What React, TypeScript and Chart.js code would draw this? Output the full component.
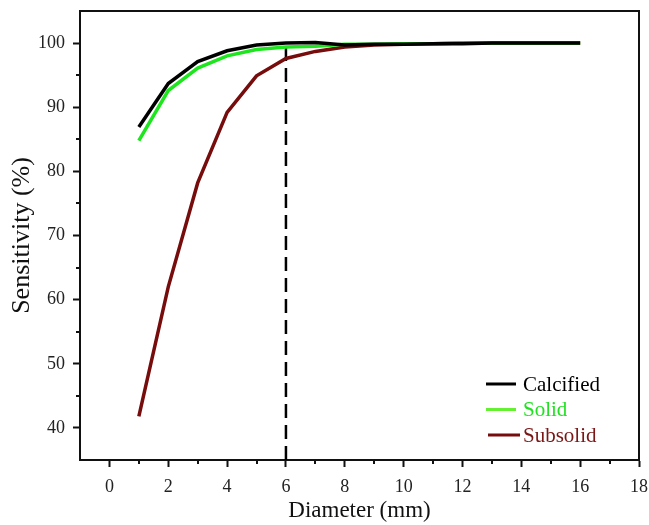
import React, { useEffect, useRef } from "react";
import { Chart, registerables } from "chart.js";

Chart.register(...registerables);

const diameters = [1, 2, 3, 4, 5, 6, 7, 8, 9, 10, 11, 12, 13, 14, 15, 16];
const calcified = [86.9, 93.7, 97.1, 98.8, 99.7, 100.0, 100.1, 99.7, 99.8, 99.8, 99.9, 99.9, 100, 100, 100, 100];
const solid = [84.8, 92.6, 96.1, 98.0, 99.0, 99.4, 99.5, 99.8, 99.8, 99.9, 99.9, 100, 100, 100, 100, 100];
const subsolid = [41.8, 62.0, 78.2, 89.2, 94.9, 97.6, 98.7, 99.4, 99.7, 99.8, 99.9, 100, 100, 100, 100, 100];
const cutoffX = [6, 6];
const cutoffY = [35, 100];

const seriesNames = ["Calcified", "Solid", "Subsolid"];
const seriesColors = ["#000000", "#1ee61e", "#760c0c"];
const legendLineColors = ["#000000", "#66f033", "#760c0c"];
const legendTextColors = ["#000000", "#22e022", "#7a1616"];

const xMajorTicks = [0, 2, 4, 6, 8, 10, 12, 14, 16, 18];
const xMinorTicks = [1, 3, 5, 7, 9, 11, 13, 15, 17];
const yMajorTicks = [40, 50, 60, 70, 80, 90, 100];
const yMinorTicks = [45, 55, 65, 75, 85, 95];

const FONT = "'Liberation Serif', 'Times New Roman', serif";

export default function App() {
  const ref = useRef<HTMLCanvasElement | null>(null);

  useEffect(() => {
    const canvas = ref.current;
    if (!canvas) return;

    const framePlugin = {
      id: "frame",
      afterDraw(chart: any) {
        const { ctx, chartArea } = chart;
        const xs = chart.scales.x;
        const ys = chart.scales.y;
        ctx.save();
        ctx.strokeStyle = "#111";
        ctx.lineWidth = 2;
        ctx.beginPath();
        ctx.moveTo(chartArea.left, chartArea.top);
        ctx.lineTo(chartArea.right, chartArea.top);
        ctx.lineTo(chartArea.right, chartArea.bottom);
        ctx.stroke();
        // minor ticks
        ctx.lineWidth = 2;
        ctx.beginPath();
        xMinorTicks.forEach((v) => {
          const px = Math.round(xs.getPixelForValue(v));
          ctx.moveTo(px, chartArea.bottom);
          ctx.lineTo(px, chartArea.bottom + 4);
        });
        yMinorTicks.forEach((v) => {
          const py = Math.round(ys.getPixelForValue(v));
          ctx.moveTo(chartArea.left, py);
          ctx.lineTo(chartArea.left - 4, py);
        });
        ctx.stroke();

        // legend
        const lx0 = xs.getPixelForValue(12.8);
        const lineW = 30;
        const rowH = 25.5;
        const topY = ys.getPixelForValue(46.85);
        ctx.font = `21px ${FONT}`;
        ctx.textBaseline = "middle";
        ctx.textAlign = "left";
        seriesNames.forEach((name, i) => {
          const y = topY + i * rowH;
          ctx.strokeStyle = legendLineColors[i];
          ctx.lineWidth = 3;
          ctx.beginPath();
          ctx.moveTo(lx0 + (i === 2 ? 2 : 0), y);
          ctx.lineTo(lx0 + lineW + (i === 2 ? 4 : 0), y);
          ctx.stroke();
          ctx.fillStyle = legendTextColors[i];
          ctx.fillText(name, lx0 + lineW + 7, y + 1);
        });
        ctx.restore();
      },
    };

    const mk = (ys: number[]) => diameters.map((d, i) => ({ x: d, y: ys[i] }));

    const chart = new Chart(canvas, {
      type: "line",
      data: {
        datasets: [
          {
            label: seriesNames[0],
            data: mk(calcified),
            borderColor: seriesColors[0],
            borderWidth: 3.5,
            pointRadius: 0,
            tension: 0,
          },
          {
            label: seriesNames[1],
            data: mk(solid),
            borderColor: seriesColors[1],
            borderWidth: 3.5,
            pointRadius: 0,
            tension: 0,
          },
          {
            label: seriesNames[2],
            data: mk(subsolid),
            borderColor: seriesColors[2],
            borderWidth: 3.5,
            pointRadius: 0,
            tension: 0,
          },
          {
            label: "cutoff",
            data: cutoffX.map((x, i) => ({ x, y: cutoffY[i] })),
            borderColor: "#000",
            borderWidth: 2.5,
            borderDash: [14, 7],
            pointRadius: 0,
          },
        ],
      },
      options: {
        animation: false,
        responsive: false,
        layout: { padding: { left: 0, top: 11, right: 10, bottom: 0 } },
        plugins: {
          legend: { display: false },
          tooltip: { enabled: false },
        },
        scales: {
          x: {
            type: "linear",
            min: -1,
            max: 18,
            afterBuildTicks: (s: any) => {
              s.ticks = xMajorTicks.map((v) => ({ value: v }));
            },
            afterFit: (s: any) => {
              s.height = 65;
              s.paddingLeft = 0;
              s.paddingRight = 0;
            },
            grid: {
              drawOnChartArea: false,
              drawTicks: true,
              tickLength: 7,
              tickWidth: 2,
              tickColor: "#111",
            },
            border: { display: true, color: "#111", width: 2 },
            ticks: {
              padding: 9,
              color: "#222",
              font: { family: FONT, size: 18 },
              maxRotation: 0,
            },
            title: {
              display: true,
              text: "Diameter (mm)",
              color: "#111",
              font: { family: FONT, size: 23 },
              padding: { top: 0, bottom: 0 },
            },
          },
          y: {
            type: "linear",
            min: 35,
            max: 105,
            afterBuildTicks: (s: any) => {
              s.ticks = yMajorTicks.map((v) => ({ value: v }));
            },
            afterFit: (s: any) => {
              s.width = 80;
              s.paddingTop = 0;
              s.paddingBottom = 0;
            },
            grid: {
              drawOnChartArea: false,
              drawTicks: true,
              tickLength: 7,
              tickWidth: 2,
              tickColor: "#111",
            },
            border: { display: true, color: "#111", width: 2 },
            ticks: {
              padding: 8,
              color: "#222",
              font: { family: FONT, size: 18 },
            },
            title: {
              display: true,
              text: "Sensitivity (%)",
              color: "#111",
              font: { family: FONT, size: 26 },
              padding: { top: 7, bottom: 0 },
            },
          },
        },
      },
      plugins: [framePlugin],
    });

    return () => chart.destroy();
  }, []);

  return (
    <div style={{ position: "absolute", left: 0, top: 0, width: 649, height: 525, background: "#fff" }}>
      <canvas ref={ref} width={649} height={525} />
    </div>
  );
}
